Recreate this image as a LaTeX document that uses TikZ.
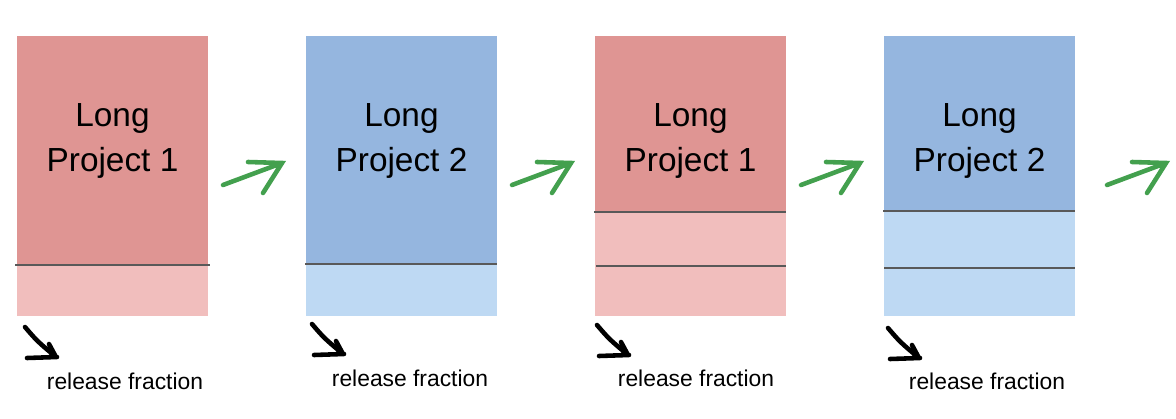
\documentclass[tikz,border=0pt]{standalone}
\usepackage{fontspec}
\setmainfont{Liberation Sans}
\usepackage{tikz}
\definecolor{projred}{HTML}{DF9593}
\definecolor{projredlight}{HTML}{F1BEBD}
\definecolor{projblue}{HTML}{95B6DF}
\definecolor{projbluelight}{HTML}{BED9F3}
\definecolor{nextgreen}{HTML}{43A04E}
\def\nextarrow(#1,#2){\draw[nextgreen, line width=2.6pt, line cap=round, shift={(#1,#2)}] (0,0) -- (59,-22) (25,-23) -- (59,-22) -- (40,8);}
\def\fracarrow(#1,#2){\draw[black, line width=2.6pt, line cap=round, line join=round, shift={(#1,#2)}] (0,0) .. controls (12,14) .. (31,30) (2,31) -- (32,30) (24,17) -- (31,30);}

\begin{document}
\begin{tikzpicture}[x=0.02cm, y=-0.02cm]
				%%%%% START %%%%%
				\useasboundingbox (0,0) rectangle (1176,419);
				
				\draw[fill=projred, draw=none] (17,36) rectangle (208,265);
				\draw[fill=projredlight, draw=none] (17,265) rectangle (208,316);
				\draw[black!65, line width=0.8pt] (15,265) -- (210,265);
				
				\draw[fill=projblue, draw=none] (306,36) rectangle (497,264);
				\draw[fill=projbluelight, draw=none] (306,264) rectangle (497,316);
				\draw[black!65, line width=0.8pt] (305,264) -- (497,264);
				
				\draw[fill=projred, draw=none] (595,36) rectangle (786,212);
				\draw[fill=projredlight, draw=none] (595,212) rectangle (786,316);
				\draw[black!65, line width=0.8pt] (594,212) -- (786,212);
				\draw[black!65, line width=0.8pt] (596,266) -- (786,266);
				
				\draw[fill=projblue, draw=none] (884,36) rectangle (1075,211);
				\draw[fill=projbluelight, draw=none] (884,211) rectangle (1075,316);
				\draw[black!65, line width=0.8pt] (883,211) -- (1075,211);
				\draw[black!65, line width=0.8pt] (884,268) -- (1075,268);
				
				\node[align=center, font=\fontsize{19}{26}\selectfont] (p1) at (112.5,141) {Long\\Project 1};
				\node[align=center, font=\fontsize{19}{26}\selectfont] (p2) at (401.5,141) {Long\\Project 2};
				\node[align=center, font=\fontsize{19}{26}\selectfont] (p3) at (690.5,141) {Long\\Project 1};
				\node[align=center, font=\fontsize{19}{26}\selectfont] (p4) at (979.5,141) {Long\\Project 2};
				
				\nextarrow(223,185)
				\nextarrow(512,185)
				\nextarrow(801,185)
				\nextarrow(1107,185)
				
				\fracarrow(25,327)
				\fracarrow(312,324)
				\fracarrow(597,325)
				\fracarrow(888,328)
				
				\node[font=\fontsize{13}{15}\selectfont] (r1) at (125,381) {release fraction};
				\node[font=\fontsize{13}{15}\selectfont] (r2) at (410,378) {release fraction};
				\node[font=\fontsize{13}{15}\selectfont] (r3) at (696,378) {release fraction};
				\node[font=\fontsize{13}{15}\selectfont] (r4) at (987,381) {release fraction};
				%%%%% END %%%%%
\end{tikzpicture}
\end{document}
